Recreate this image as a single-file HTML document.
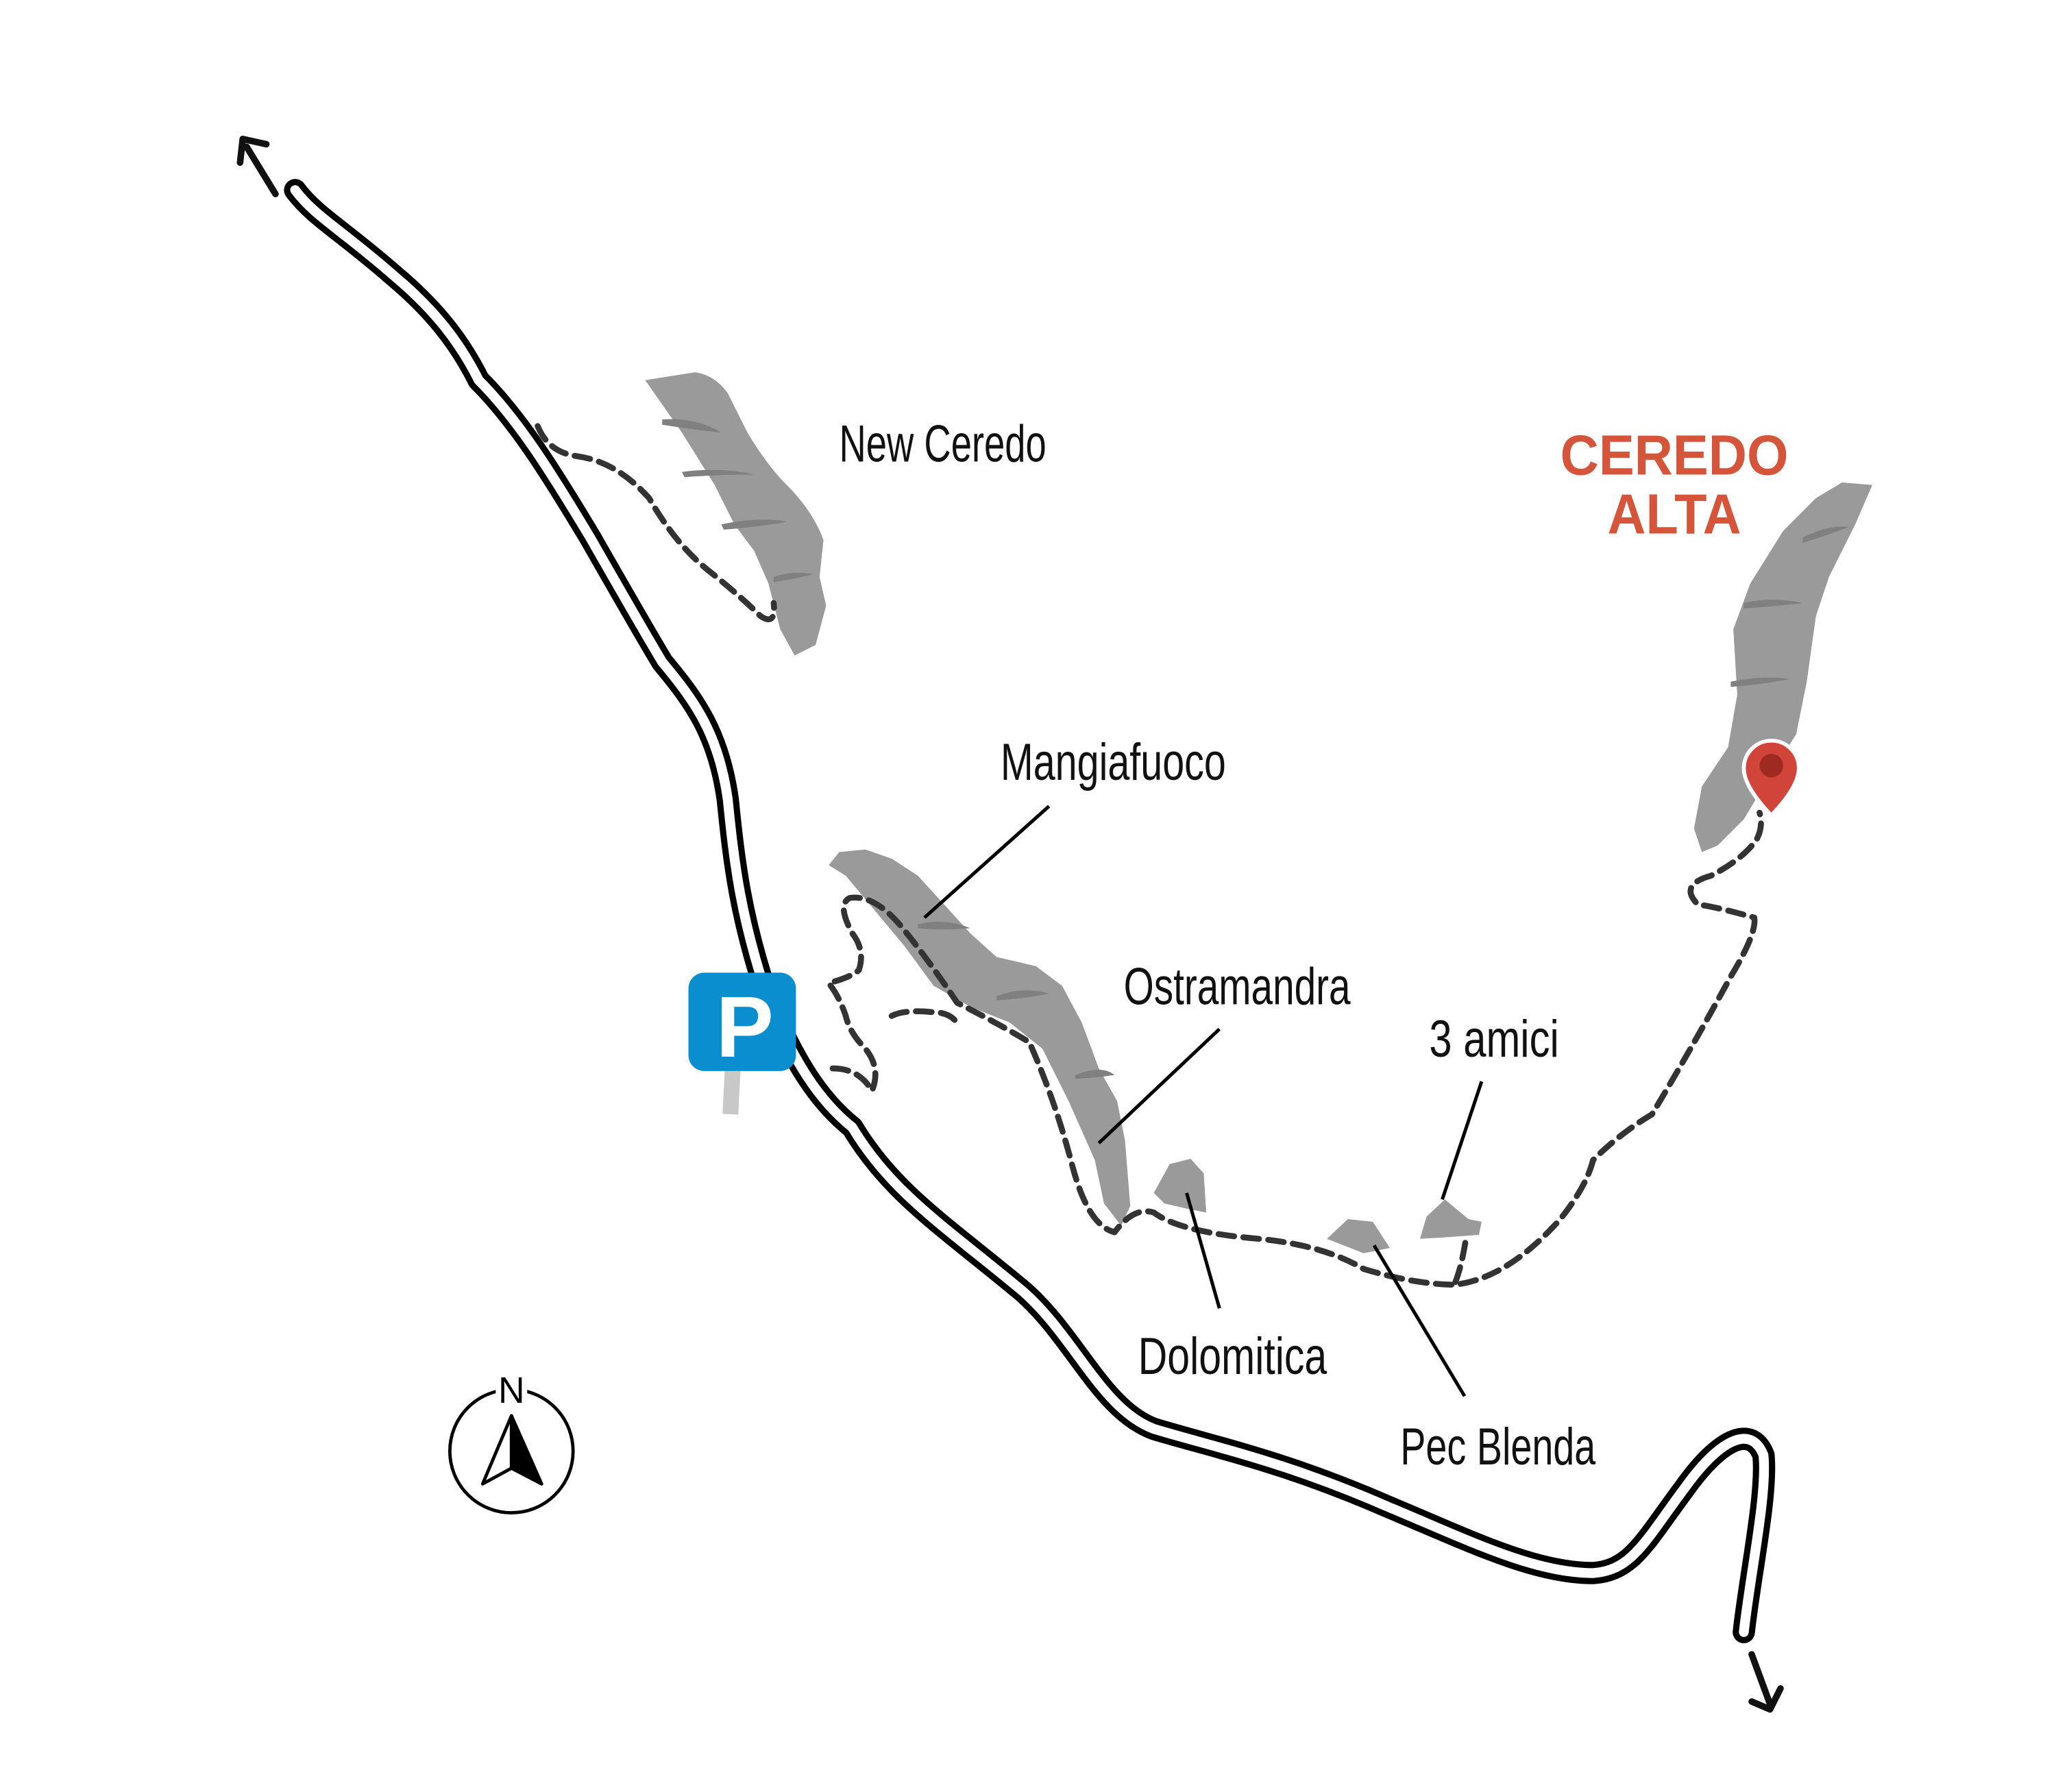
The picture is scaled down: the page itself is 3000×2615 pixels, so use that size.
<!DOCTYPE html>
<html><head><meta charset="utf-8"><style>
html,body{margin:0;padding:0;background:#fff}
svg{display:block}
.lbl{font-family:"Liberation Sans",sans-serif;font-size:40px;fill:#111}
</style></head><body>
<svg width="3000" height="2615" viewBox="0 0 1568 1367" xmlns="http://www.w3.org/2000/svg">
<rect width="1568" height="1367" fill="#fff"/>
<!-- road -->
<g fill="none" stroke-linejoin="round" stroke-linecap="round">
<path d="M225,145 C240,165 260,175 300,210 C330,235 350,260 365,290 C395,320 420,360 450,410 C470,445 490,480 505,505 C530,535 548,560 555,610 C560,660 565,700 585,760 C605,810 625,840 650,860 C680,910 720,935 780,985 C820,1020 840,1075 880,1090 C930,1105 980,1115 1060,1150 C1120,1175 1170,1200 1215,1200 C1245,1198 1255,1175 1285,1135 C1310,1100 1335,1085 1345,1110 C1348,1140 1335,1200 1330,1245" stroke="#000" stroke-width="17"/>
<path d="M225,145 C240,165 260,175 300,210 C330,235 350,260 365,290 C395,320 420,360 450,410 C470,445 490,480 505,505 C530,535 548,560 555,610 C560,660 565,700 585,760 C605,810 625,840 650,860 C680,910 720,935 780,985 C820,1020 840,1075 880,1090 C930,1105 980,1115 1060,1150 C1120,1175 1170,1200 1215,1200 C1245,1198 1255,1175 1285,1135 C1310,1100 1335,1085 1345,1110 C1348,1140 1335,1200 1330,1245" stroke="#fff" stroke-width="7.5"/>
<!-- arrow ends -->
<path d="M210,148 L188,112" stroke="#111" stroke-width="5"/>
<path d="M183,124 L185,106 L203,110" stroke="#111" stroke-width="5"/>
<path d="M1336,1262 L1350,1300" stroke="#111" stroke-width="5"/>
<path d="M1336,1298 L1350,1304 L1358,1288" stroke="#111" stroke-width="5"/>
</g>
<!-- rocks -->
<g fill="#9a9a9a">
<path d="M492,290 L530,284 Q545,286 555,300 L570,330 Q585,355 600,370 Q620,390 628,412 L625,440 L630,462 L622,492 L606,500 L595,480 L586,445 L575,420 L560,400 L545,370 L520,330 Z"/>
<path d="M632,660 L640,650 L660,648 L680,655 L700,668 L720,690 L740,712 L760,730 L790,737 L810,752 L825,780 L838,815 L852,840 L858,870 L862,920 L855,935 L842,918 L835,885 L815,840 L795,800 L770,780 L740,768 L712,752 L690,722 L665,692 L645,668 Z"/>
<path d="M1405,368 L1428,370 L1415,400 L1395,440 L1385,470 L1378,520 L1370,560 L1345,600 L1330,625 L1310,645 L1298,650 L1292,632 L1298,600 L1318,570 L1325,530 L1322,480 L1335,445 L1360,405 L1385,380 Z"/>
<path d="M880,910 L892,888 L908,884 L918,895 L920,925 L905,922 L888,918 Z"/>
<path d="M1012,945 L1028,930 L1047,932 L1060,952 L1040,956 Z"/>
<path d="M1083,945 L1088,928 L1102,915 L1120,930 L1130,932 L1128,942 L1100,944 Z"/>
</g>
<g fill="#808080">
<path d="M505,320 Q530,318 550,330 Q530,328 505,324Z"/>
<path d="M520,360 Q550,356 575,362 Q548,362 522,364Z"/>
<path d="M550,400 Q580,394 600,398 Q578,402 552,404Z"/>
<path d="M590,440 Q605,435 620,438 Q605,442 590,444Z"/>
<path d="M700,705 Q720,700 740,708 Q720,710 700,708Z"/>
<path d="M760,760 Q780,752 800,758 Q780,762 760,763Z"/>
<path d="M820,820 Q840,812 850,820 Q838,822 820,823Z"/>
<path d="M1330,460 Q1350,455 1375,460 Q1350,463 1330,464Z"/>
<path d="M1320,520 Q1345,515 1365,518 Q1345,522 1320,524Z"/>
<path d="M1375,410 Q1395,400 1410,402 Q1395,408 1375,414Z"/>
</g>
<!-- trails -->
<g fill="none" stroke="#333" stroke-width="4.5" stroke-dasharray="12 7" stroke-linecap="round" stroke-linejoin="round">
<path d="M410,325 Q418,345 440,348 Q470,352 495,380 Q515,415 540,435 Q565,455 580,470 Q592,478 590,460"/>
<path d="M635,815 Q655,815 665,832 Q672,815 660,800 Q648,788 645,775 Q640,760 632,750 Q650,745 655,740 Q660,725 650,712 Q638,690 648,685 Q668,682 690,710 Q710,735 730,765 Q760,780 785,795 Q805,840 818,890 Q830,935 850,940 Q865,920 880,925 Q900,940 960,945 Q1010,950 1040,968 Q1080,980 1110,980 Q1150,975 1190,930 Q1210,905 1215,885 Q1235,865 1260,850 Q1290,800 1320,745 Q1340,712 1338,700 Q1310,692 1295,690 Q1280,675 1305,668 Q1330,655 1340,640 Q1345,630 1342,620"/>
<path d="M680,775 Q690,770 710,772 Q722,772 728,778"/>
<path d="M1110,978 Q1115,965 1118,945"/>
</g>
<!-- leaders -->
<g stroke="#000" stroke-width="2.6">
<line x1="800" y1="615" x2="705" y2="700"/>
<line x1="930" y1="785" x2="838" y2="872"/>
<line x1="1130" y1="825" x2="1100" y2="915"/>
<line x1="930" y1="998" x2="905" y2="910"/>
<line x1="1117" y1="1065" x2="1048" y2="950"/>
</g>
<!-- labels -->
<g class="lbl">
<text x="640" y="352" textLength="158" lengthAdjust="spacingAndGlyphs" class="lbl">New Ceredo</text>
<text x="763" y="595" textLength="172" lengthAdjust="spacingAndGlyphs" class="lbl">Mangiafuoco</text>
<text x="857" y="766" textLength="173" lengthAdjust="spacingAndGlyphs" class="lbl">Ostramandra</text>
<text x="1090" y="806" textLength="99" lengthAdjust="spacingAndGlyphs" class="lbl">3 amici</text>
<text x="868" y="1048" textLength="144" lengthAdjust="spacingAndGlyphs" class="lbl">Dolomitica</text>
<text x="1068" y="1117" textLength="149" lengthAdjust="spacingAndGlyphs" class="lbl">Pec Blenda</text>
</g>
<g font-family="Liberation Sans,sans-serif" font-weight="bold" font-size="43" fill="#d4553a" text-anchor="middle">
<text x="1277" y="362" textLength="174" lengthAdjust="spacingAndGlyphs">CEREDO</text>
<text x="1277" y="407" textLength="102" lengthAdjust="spacingAndGlyphs">ALTA</text>
</g>
<!-- parking -->
<rect x="552" y="808" width="12" height="42" fill="#c8c8c8" transform="rotate(3 558 830)"/>
<rect x="525" y="742" width="82" height="75" rx="12" fill="#0a8ed0"/>
<text x="568" y="806" font-family="Liberation Sans,sans-serif" font-weight="bold" font-size="66" fill="#fff" text-anchor="middle">P</text>
<!-- compass -->
<circle cx="390" cy="1107" r="47" fill="none" stroke="#000" stroke-width="2.5"/>
<rect x="378" y="1045" width="24" height="26" fill="#fff"/>
<text x="390" y="1070" font-family="Liberation Sans,sans-serif" font-size="28" text-anchor="middle" fill="#000">N</text>
<path d="M390,1080 L368,1132 L390,1120 Z" fill="#fff" stroke="#000" stroke-width="2.5" stroke-linejoin="round"/>
<path d="M390,1080 L413,1132 L390,1120 Z" fill="#000" stroke="#000" stroke-width="2.5" stroke-linejoin="round"/>
<!-- pin -->
<path d="M1351,622 Q1330,600 1330,586 A21,21 0 1 1 1372,586 Q1372,600 1351,622Z" fill="#d0443a" stroke="#fff" stroke-width="3"/>
<circle cx="1351" cy="584" r="9" fill="#9e2a22"/>
</svg>
</body></html>
